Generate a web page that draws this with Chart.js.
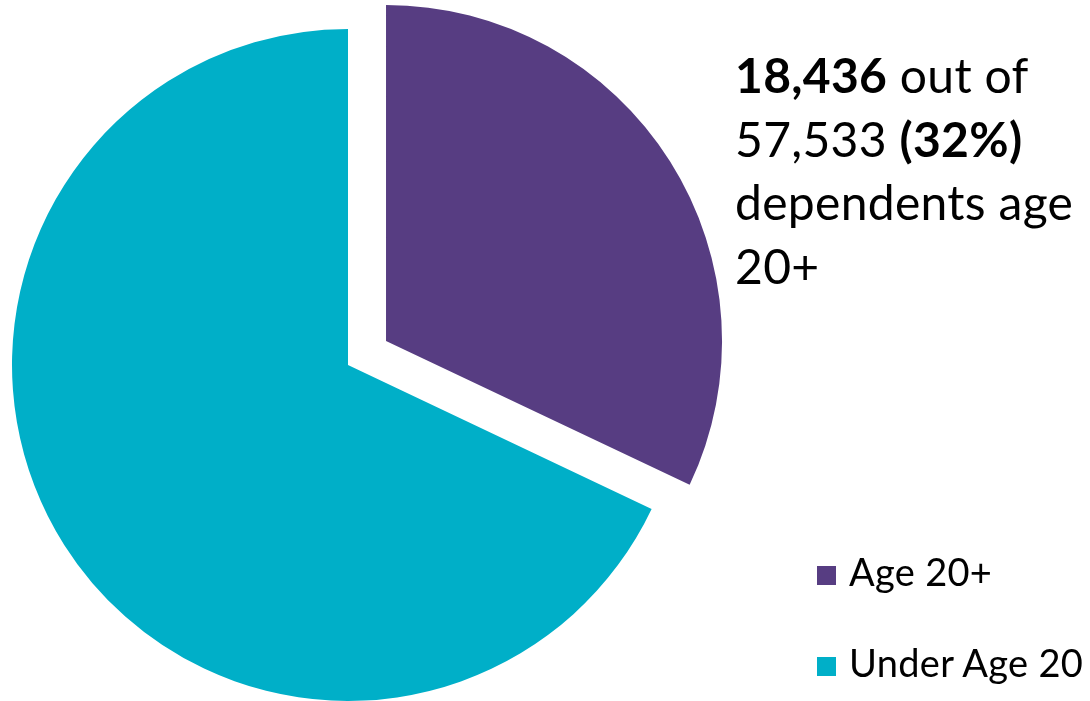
<!DOCTYPE html>
<html lang="en">
<head>
    <meta charset="UTF-8">
    <title>Dependents by Age</title>
    <script src="https://cdn.jsdelivr.net/npm/chart.js"></script>
    <style>
        html, body {
            margin: 0;
            width: 1090px;
            height: 701px;
            overflow: hidden;
            background: #fff;
            font-family: Lato, "Open Sans", Arial, sans-serif;
            color: #000;
        }
        #chartBox {
            position: absolute;
            left: 0;
            top: 0;
            width: 1090px;
            height: 701px;
        }
        #note {
            position: absolute;
            left: 735px;
            top: 43px;
            font-size: 48px;
            line-height: 63.7px;
            letter-spacing: 0.3px;
            white-space: nowrap;
        }
        #legend {
            position: absolute;
            left: 817px;
            top: 551px;
            font-size: 38px;
            line-height: 40px;
            letter-spacing: 0.3px;
            white-space: nowrap;
        }
        .item {
            display: flex;
            align-items: flex-start;
            height: 91px;
        }
        .swatch {
            width: 19px;
            height: 19px;
            margin-top: 15px;
            margin-right: 13px;
            flex: none;
        }
    </style>
</head>
<body>
    <div id="chartBox"><canvas id="ageChart"></canvas></div>

    <div id="note">
        <b>18,436</b> out of<br>
        57,533 <b>(32%)</b><br>
        dependents age<br>
        20+
    </div>

    <div id="legend"></div>

    <script>
        // dependents split by age
        const categories = ['Age 20+', 'Under Age 20'];
        const dependents = [18436, 39097];
        const sliceColors = ['#573D82', '#00AFC8'];
        const explodeBy = [45, 0];

        // pushes a slice out along its own bisector without resizing it
        const explodePlugin = {
            id: 'explode',
            afterDatasetsUpdate(chart) {
                const meta = chart.getDatasetMeta(0);
                meta.data.forEach((arc, i) => {
                    const d = explodeBy[i] || 0;
                    const mid = (arc.startAngle + arc.endAngle) / 2;
                    arc.x += Math.cos(mid) * d;
                    arc.y += Math.sin(mid) * d;
                });
            }
        };

        const ctx = document.getElementById('ageChart').getContext('2d');
        const ageChart = new Chart(ctx, {
            type: 'pie',
            data: {
                labels: categories,
                datasets: [{
                    data: dependents,
                    backgroundColor: sliceColors,
                    borderWidth: 0,
                    clip: false
                }]
            },
            options: {
                responsive: true,
                maintainAspectRatio: false,
                animation: false,
                radius: 336,
                layout: {
                    padding: { left: 0, right: 394, top: 29, bottom: 0 }
                },
                plugins: {
                    legend: { display: false },
                    tooltip: { enabled: false }
                }
            },
            plugins: [explodePlugin]
        });

        // legend built from the chart's own labels and colours
        const legend = document.getElementById('legend');
        categories.forEach((label, i) => {
            legend.insertAdjacentHTML('beforeend',
                `<div class="item"><span class="swatch" style="background:${sliceColors[i]}"></span><span>${label}</span></div>`);
        });
    </script>
</body>
</html>
